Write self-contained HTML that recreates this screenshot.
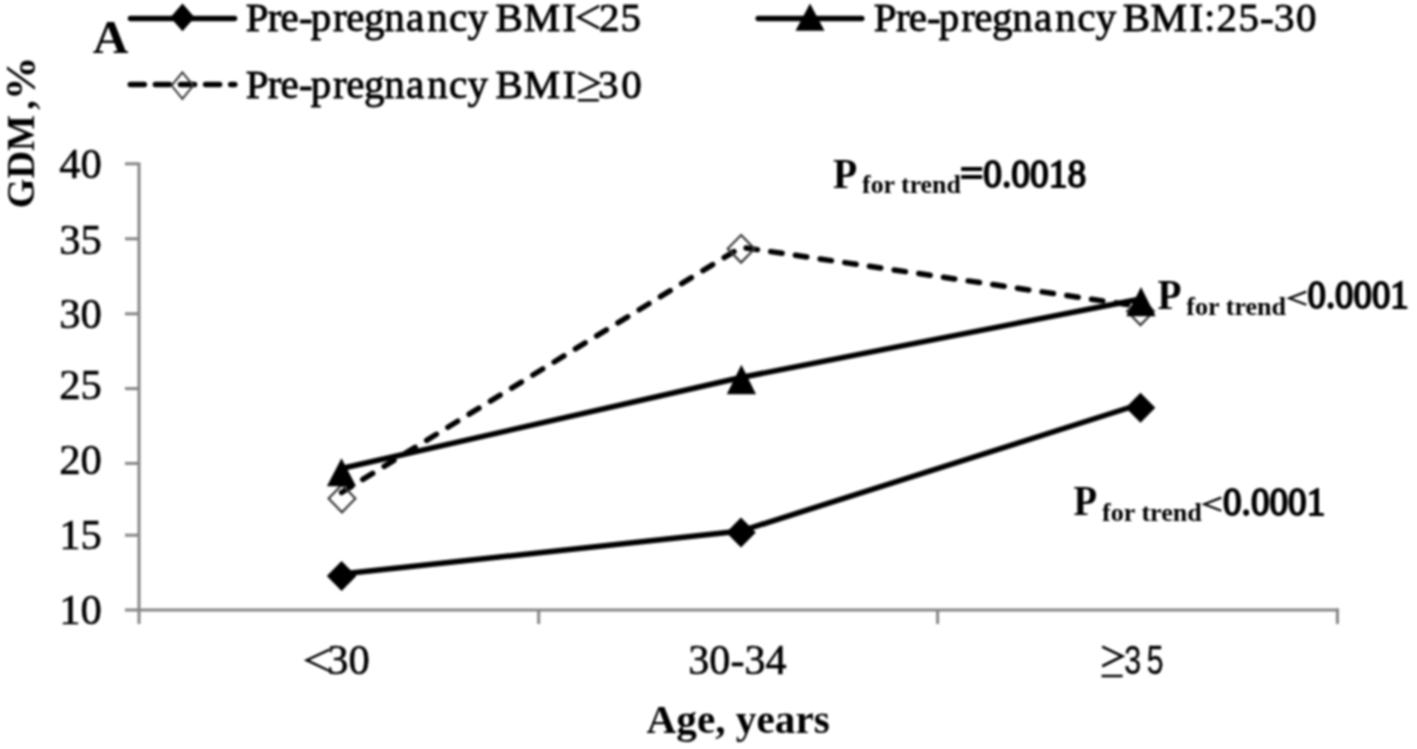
<!DOCTYPE html>
<html><head><meta charset="utf-8">
<style>
html,body{margin:0;padding:0;background:#fff;width:1417px;height:749px;overflow:hidden;}
svg{display:block;filter:blur(0.9px);}
text{fill:#000;}
.r{font-family:"Liberation Serif",serif;stroke:#000;stroke-width:0.6px;}
.b{font-family:"Liberation Serif",serif;font-weight:bold;}
.lg{stroke-width:0.9px;}
.sb{stroke-width:1.8px;}
.s{font-family:"Liberation Sans",sans-serif;stroke:#000;stroke-width:0.4px;}
</style></head>
<body>
<svg width="1417" height="749" viewBox="0 0 1417 749">
<g stroke="#868686" stroke-width="3" fill="none">
<line x1="139" y1="162.5" x2="139" y2="624"/>
<line x1="125" y1="610" x2="1338.9" y2="610"/>
<line x1="125" y1="163.8" x2="139" y2="163.8"/>
<line x1="125" y1="238.8" x2="139" y2="238.8"/>
<line x1="125" y1="313.8" x2="139" y2="313.8"/>
<line x1="125" y1="388.6" x2="139" y2="388.6"/>
<line x1="125" y1="463.4" x2="139" y2="463.4"/>
<line x1="125" y1="535.2" x2="139" y2="535.2"/>
<line x1="538.7" y1="610" x2="538.7" y2="624"/>
<line x1="937.6" y1="610" x2="937.6" y2="624"/>
<line x1="1337.4" y1="608.5" x2="1337.4" y2="624"/>
</g>
<text class="r" font-size="43" x="59.17" y="178.05" textLength="42.64" lengthAdjust="spacingAndGlyphs">40</text>
<text class="r" font-size="43" x="59.17" y="253.50" textLength="42.64" lengthAdjust="spacingAndGlyphs">35</text>
<text class="r" font-size="43" x="59.17" y="328.00" textLength="42.64" lengthAdjust="spacingAndGlyphs">30</text>
<text class="r" font-size="43" x="59.17" y="399.20" textLength="42.64" lengthAdjust="spacingAndGlyphs">25</text>
<text class="r" font-size="43" x="59.17" y="474.20" textLength="42.64" lengthAdjust="spacingAndGlyphs">20</text>
<text class="r" font-size="43" x="59.17" y="549.20" textLength="42.64" lengthAdjust="spacingAndGlyphs">15</text>
<text class="r" font-size="43" x="59.17" y="623.95" textLength="42.64" lengthAdjust="spacingAndGlyphs">10</text>
<text class="r" font-size="42.5" x="327.37" y="674.00" textLength="42.53" lengthAdjust="spacingAndGlyphs">30</text>
<path d="M329.5,649.6 L306.6,660.2 L329.5,671" fill="none" stroke="#000" stroke-width="2.4"/>
<text class="r" font-size="42.5" x="688.29" y="674.00" textLength="98.26" lengthAdjust="spacingAndGlyphs">30-34</text>
<text class="s" font-size="40.5" x="1124.18" y="674.00" textLength="16.92" lengthAdjust="spacingAndGlyphs">3</text>
<text class="s" font-size="40.5" x="1146.70" y="674.00" textLength="16.74" lengthAdjust="spacingAndGlyphs">5</text>
<path d="M1102.2,646.6 L1122.3,656.3 L1102.2,666.2 M1101.6,676 L1122.6,676" fill="none" stroke="#000" stroke-width="2.7"/>
<text class="b" font-size="41" x="646.59" y="732.50" textLength="183.15" lengthAdjust="spacingAndGlyphs">Age, years</text>
<text class="b" font-size="40.5" transform="translate(33.80,208.21) rotate(-90)" x="0" y="0" textLength="93.21" lengthAdjust="spacingAndGlyphs">GDM</text>
<text class="b" font-size="40.5" transform="translate(33.80,109.67) rotate(-90)" x="0" y="0" textLength="9.49" lengthAdjust="spacingAndGlyphs">,</text>
<text class="b" font-size="43" transform="translate(35.00,100.29) rotate(-90)" x="0" y="0" textLength="43.75" lengthAdjust="spacingAndGlyphs">%</text>
<text class="b" font-size="46.5" x="92.81" y="53.00" textLength="35.65" lengthAdjust="spacingAndGlyphs">A</text>
<polyline points="341.6,492.5 741,247.2 1140.6,306.5" fill="none" stroke="#000" stroke-width="5.5" stroke-dasharray="11.5 13.44" stroke-linecap="round" stroke-linejoin="round"/>
<g fill="none" stroke="#3a3a3a" stroke-width="2.2">
<path d="M342,484.7 L355.4,498.5 L342,512.3 L328.6,498.5 Z"/>
<path d="M741.1,235.0 L754.5,248.8 L741.1,262.6 L727.7,248.8 Z"/>
<path d="M1140.5,297.5 L1153.9,311.3 L1140.5,325.1 L1127.1,311.3 Z"/>
</g>
<polyline points="341.6,574 741,531 1140.6,404" fill="none" stroke="#000" stroke-width="5.5" stroke-linejoin="round"/>
<g fill="#000">
<path d="M341.6,561.0 L356.40000000000003,576 L341.6,591.0 L326.8,576 Z"/>
<path d="M741,517.4 L755.8,532.4 L741,547.4 L726.2,532.4 Z"/>
<path d="M1140.5,392.8 L1155.3,407.8 L1140.5,422.8 L1125.7,407.8 Z"/>
</g>
<polyline points="341.6,468.5 741,377.5 1140.6,299" fill="none" stroke="#000" stroke-width="5.5" stroke-linejoin="round"/>
<g fill="#000">
<path d="M341.5,458.3 L356.1,486.2 L326.9,486.2 Z"/>
<path d="M741.4,364.7 L756.0,394.2 L726.8,394.2 Z"/>
<path d="M1141,286.9 L1155.6,316.2 L1126.4,316.2 Z"/>
</g>
<text class="b" font-size="41.5" x="832.91" y="187.60" textLength="24.22" lengthAdjust="spacingAndGlyphs">P</text>
<text class="b" font-size="25.5" x="862.07" y="193.10" textLength="98.76" lengthAdjust="spacingAndGlyphs">for trend</text>
<text class="r sb" font-size="40.2" x="983.30" y="187.10" textLength="102.89" lengthAdjust="spacingAndGlyphs">0.0018</text>
<text class="r sb" font-size="40.5" x="960.02" y="187.20" textLength="23.41" lengthAdjust="spacingAndGlyphs">=</text>
<text class="b" font-size="41.5" x="1157.61" y="308.70" textLength="24.00" lengthAdjust="spacingAndGlyphs">P</text>
<text class="b" font-size="25.5" x="1186.37" y="314.90" textLength="99.76" lengthAdjust="spacingAndGlyphs">for trend</text>
<text class="r sb" font-size="40.2" x="1307.53" y="308.40" textLength="101.18" lengthAdjust="spacingAndGlyphs">0.0001</text>
<text class="b" font-size="41.5" x="1073.52" y="514.60" textLength="23.57" lengthAdjust="spacingAndGlyphs">P</text>
<text class="b" font-size="25.5" x="1102.07" y="521.10" textLength="99.76" lengthAdjust="spacingAndGlyphs">for trend</text>
<text class="r sb" font-size="40.2" x="1223.01" y="514.60" textLength="102.32" lengthAdjust="spacingAndGlyphs">0.0001</text>
<g fill="none" stroke="#000" stroke-width="2.2" stroke-linejoin="miter">
<path d="M1306.3,291.6 L1289.3,298.2 L1306.3,304.8"/>
<path d="M1221.3,497.6 L1204.3,504.2 L1221.3,510.8"/>
</g>
<line x1="130.5" y1="18.6" x2="234.5" y2="18.6" stroke="#000" stroke-width="5.5" stroke-linecap="round"/>
<path d="M182.5,3.599999999999998 L194.7,17.4 L182.5,31.2 L170.3,17.4 Z" fill="#000"/>
<text class="r lg" font-size="41" x="245.70 267.87 280.62 298.98 310.66 333.12 346.27 363.94 384.19 406.01 427.24 449.07 467.60" y="30.80">Pre-pregnancy</text>
<text class="r lg" font-size="41" x="495.57 523.85 562.58" y="30.80">BMI</text>
<text class="r lg" font-size="41" x="599.10 620.44" y="30.80">25</text>
<path d="M599.3,5.8 L578.2,17.2 L599.3,28.4" fill="none" stroke="#000" stroke-width="2.5"/>
<line x1="758.2" y1="18.6" x2="861.8" y2="18.6" stroke="#000" stroke-width="5.5" stroke-linecap="round"/>
<path d="M810,3.5 L824.5,30.8 L795.5,30.8 Z" fill="#000"/>
<text class="r lg" font-size="41" x="873.80 895.97 908.72 927.08 938.76 961.22 974.37 992.04 1012.29 1034.11 1055.34 1077.17 1095.70" y="30.80">Pre-pregnancy</text>
<text class="r lg" font-size="41" x="1122.87 1150.40 1189.38 1204.01 1216.50 1238.49 1259.98 1273.99 1296.05" y="30.80">BMI:25-30</text>
<line x1="130.3" y1="84.4" x2="234.8" y2="84.4" stroke="#000" stroke-width="5.5" stroke-dasharray="14 11.1" stroke-linecap="round"/>
<path d="M182.4,72.39999999999999 L193.20000000000002,85.6 L182.4,98.8 L171.6,85.6 Z" fill="none" stroke="#3a3a3a" stroke-width="2"/>
<text class="r lg" font-size="41" x="245.70 267.87 280.62 298.98 310.66 333.12 346.27 363.94 384.19 406.01 427.24 449.07 467.60" y="98.40">Pre-pregnancy</text>
<text class="r lg" font-size="41" x="495.57 523.85 562.58" y="98.40">BMI</text>
<text class="r lg" font-size="41" x="598.10 621.15" y="98.40">30</text>
<path d="M578.4,72.6 L598.6,82.9 L578.4,92.6 M578,100.3 L598.8,100.3" fill="none" stroke="#000" stroke-width="2.5"/>
</svg>
</body></html>
